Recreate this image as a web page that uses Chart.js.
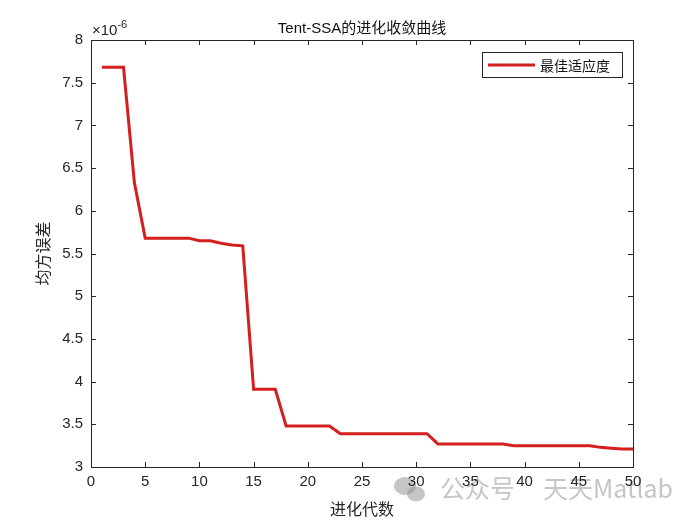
<!DOCTYPE html>
<html>
<head>
<meta charset="utf-8">
<script src="https://cdn.jsdelivr.net/npm/chart.js@4/dist/chart.umd.min.js"></script>
<style>
html,body{margin:0;padding:0;background:#fff;}
#wrap{width:700px;height:525px;position:relative;}
</style>
</head>
<body>
<div id="wrap"><canvas id="c" width="700" height="525"></canvas></div>
<script>
const generations = [1,2,3,4,5,6,7,8,9,10,11,12,13,14,15,16,17,18,19,20,21,22,23,24,25,26,27,28,29,30,31,32,33,34,35,36,37,38,39,40,41,42,43,44,45,46,47,48,49,50];
const bestFitness = [7.68,7.68,7.68,6.33,5.68,5.68,5.68,5.68,5.68,5.65,5.65,5.62,5.60,5.59,3.91,3.91,3.91,3.48,3.48,3.48,3.48,3.48,3.39,3.39,3.39,3.39,3.39,3.39,3.39,3.39,3.39,3.27,3.27,3.27,3.27,3.27,3.27,3.27,3.25,3.25,3.25,3.25,3.25,3.25,3.25,3.25,3.23,3.22,3.21,3.21];
const xTicks = [0,5,10,15,20,25,30,35,40,45,50];
const yTicks = [3,3.5,4,4.5,5,5.5,6,6.5,7,7.5,8];
const titleText = "Tent-SSA的进化收敛曲线";
const xLabel = "进化代数";
const yLabel = "均方误差";
const seriesName = "最佳适应度";
const exponentBase = "×10";
const exponentPow = "-6";
const watermarkA = "公众号";
const watermarkB = "天天Matlab";

const lineColor = "#d41f1f";
const axisColor = "#262626";
const tickFont = "15px 'Liberation Sans', Arial, sans-serif";

const decor = {
  id: 'decor',
  afterDraw(chart) {
    const ctx = chart.ctx;
    const a = chart.chartArea;
    const xs = chart.scales.x, ys = chart.scales.y;
    ctx.save();
    // box
    ctx.strokeStyle = axisColor;
    ctx.lineWidth = 1;
    ctx.strokeRect(Math.round(a.left)+0.5, Math.round(a.top)+0.5, Math.round(a.right-a.left), Math.round(a.bottom-a.top));
    // inward ticks
    ctx.beginPath();
    const tl = 5;
    xTicks.forEach(v => {
      const px = Math.round(xs.getPixelForValue(v)) + 0.5;
      ctx.moveTo(px, a.bottom); ctx.lineTo(px, a.bottom - tl);
      ctx.moveTo(px, a.top); ctx.lineTo(px, a.top + tl);
    });
    yTicks.forEach(v => {
      const py = Math.round(ys.getPixelForValue(v)) + 0.5;
      ctx.moveTo(a.left, py); ctx.lineTo(a.left + tl, py);
      ctx.moveTo(a.right, py); ctx.lineTo(a.right - tl, py);
    });
    ctx.stroke();
    // watermark (behind labels)
    ctx.save();
    ctx.globalAlpha = 0.5;
    ctx.fillStyle = '#8c8c8c';
    ctx.beginPath();
    ctx.ellipse(405, 486, 11, 9, 0, 0, Math.PI * 2);
    ctx.fill();
    ctx.beginPath();
    ctx.ellipse(416, 494, 9, 7.5, 0, 0, Math.PI * 2);
    ctx.fill();
    ctx.font = "25px 'Noto Sans CJK SC', sans-serif";
    ctx.textAlign = 'left'; ctx.textBaseline = 'middle';
    ctx.fillText(watermarkA, 440, 488);
    ctx.font = "25px 'Noto Sans CJK SC', 'Liberation Sans', sans-serif";
    ctx.fillText(watermarkB, 543, 488);
    ctx.restore();
    // tick labels
    ctx.fillStyle = axisColor;
    ctx.font = tickFont;
    ctx.textAlign = 'center'; ctx.textBaseline = 'top';
    xTicks.forEach(v => ctx.fillText(String(v), xs.getPixelForValue(v), a.bottom + 7));
    ctx.textAlign = 'right'; ctx.textBaseline = 'middle';
    yTicks.forEach(v => ctx.fillText(String(v), a.left - 8, ys.getPixelForValue(v)));
    // exponent
    ctx.textAlign = 'left'; ctx.textBaseline = 'alphabetic';
    ctx.font = "15px 'Liberation Sans', Arial, sans-serif";
    ctx.fillText(exponentBase, a.left + 1, a.top - 5);
    const w = ctx.measureText(exponentBase).width;
    ctx.font = "11px 'Liberation Sans', Arial, sans-serif";
    ctx.fillText(exponentPow, a.left + 1 + w, a.top - 12);
    // title
    ctx.font = "15px 'Liberation Sans', Arial, 'Noto Sans CJK SC', sans-serif";
    ctx.textAlign = 'center';
    ctx.fillStyle = '#111';
    ctx.fillText(titleText, (a.left + a.right) / 2, a.top - 7);
    // axis labels
    ctx.font = "16px 'Noto Sans CJK SC', sans-serif";
    ctx.fillStyle = axisColor;
    ctx.textBaseline = 'middle';
    ctx.fillText(xLabel, (a.left + a.right) / 2, a.bottom + 42);
    ctx.save();
    ctx.translate(a.left - 48, (a.top + a.bottom) / 2);
    ctx.rotate(-Math.PI / 2);
    ctx.fillText(yLabel, 0, 0);
    ctx.restore();
    // legend
    const lx = a.right - 151, ly = a.top + 12, lw = 140, lh = 25;
    ctx.fillStyle = '#fff';
    ctx.fillRect(lx, ly, lw, lh);
    ctx.strokeStyle = axisColor;
    ctx.lineWidth = 1;
    ctx.strokeRect(lx + 0.5, ly + 0.5, lw, lh);
    ctx.strokeStyle = lineColor;
    ctx.lineWidth = 3;
    ctx.beginPath();
    ctx.moveTo(lx + 6, ly + lh / 2 + 0.5); ctx.lineTo(lx + 53, ly + lh / 2 + 0.5);
    ctx.stroke();
    ctx.fillStyle = '#111';
    ctx.font = "14px 'Noto Sans CJK SC', sans-serif";
    ctx.textAlign = 'left';
    ctx.fillText(seriesName, lx + 58, ly + lh / 2 + 1);
    ctx.restore();
  }
};

new Chart(document.getElementById('c'), {
  type: 'line',
  data: {
    datasets: [{
      label: seriesName,
      data: generations.map((g, i) => ({x: g, y: bestFitness[i]})),
      borderColor: lineColor,
      backgroundColor: lineColor,
      borderWidth: 3,
      pointRadius: 0,
      tension: 0,
      fill: false
    }]
  },
  options: {
    responsive: false,
    animation: false,
    devicePixelRatio: 1,
    layout: { padding: { top: 40, right: 67, left: 0, bottom: 0 } },
    plugins: { legend: { display: false }, title: { display: false }, tooltip: { enabled: false } },
    scales: {
      x: {
        type: 'linear', min: 0, max: 50,
        grid: { display: false, drawTicks: false },
        border: { display: false },
        ticks: { display: false, stepSize: 5 },
        afterFit(s) { s.height = 58; }
      },
      y: {
        type: 'linear', min: 3, max: 8,
        grid: { display: false, drawTicks: false },
        border: { display: false },
        ticks: { display: false, stepSize: 0.5 },
        afterFit(s) { s.width = 91; }
      }
    }
  },
  plugins: [decor]
});
</script>
</body>
</html>
